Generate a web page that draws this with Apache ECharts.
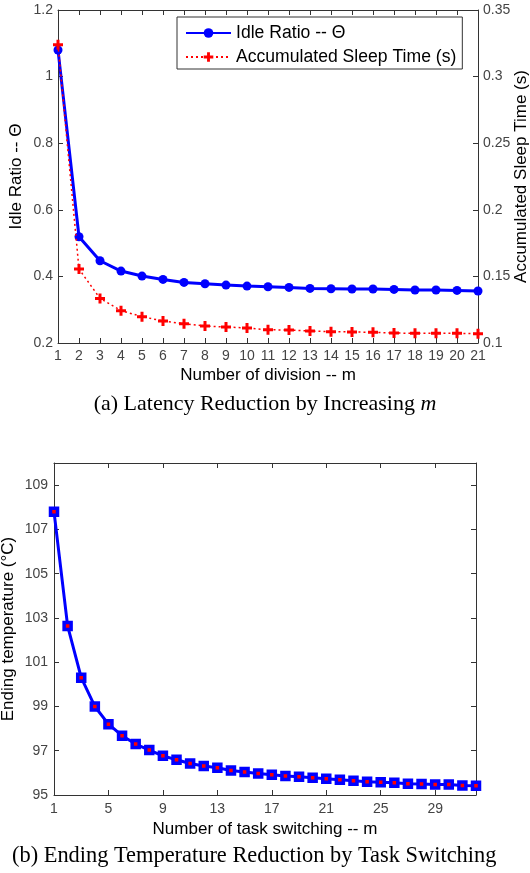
<!DOCTYPE html>
<html>
<head>
<meta charset="utf-8">
<script src="https://cdn.jsdelivr.net/npm/echarts@6/dist/echarts.min.js"></script>
<style>
html,body{margin:0;padding:0;background:#fff;}
#c{width:530px;height:873px;}
</style>
</head>
<body>
<div id="c"></div>
<script>
// ---- Data ----
const divisions = [1,2,3,4,5,6,7,8,9,10,11,12,13,14,15,16,17,18,19,20,21];
const idleRatio = [1.08,0.519,0.447,0.416,0.401,0.391,0.382,0.378,0.374,0.371,0.369,0.367,0.364,0.363,0.362,0.362,0.361,0.359,0.359,0.358,0.356];
const sleepTime = [0.324,0.1555,0.1335,0.1243,0.1198,0.1165,0.1145,0.1128,0.112,0.1113,0.1099,0.1098,0.109,0.1085,0.1083,0.108,0.1075,0.1073,0.1073,0.1073,0.107];
const switches = [1,2,3,4,5,6,7,8,9,10,11,12,13,14,15,16,17,18,19,20,21,22,23,24,25,26,27,28,29,30,31,32];
const endTemp = [107.8,102.64,100.3,99.0,98.2,97.68,97.3,97.03,96.77,96.59,96.42,96.31,96.23,96.11,96.04,95.97,95.91,95.86,95.82,95.78,95.73,95.69,95.64,95.6,95.58,95.55,95.51,95.5,95.48,95.47,95.43,95.42];
const idleTicks = [0.2,0.4,0.6,0.8,1,1.2];
const sleepTicks = [0.1,0.15,0.2,0.25,0.3,0.35];
const tempTicks = [95,97,99,101,103,105,107,109];
const switchTicks = [1,5,9,13,17,21,25,29];

const pair = (xs, ys) => xs.map((x, i) => [x, ys[i]]);

const FONT = 'Liberation Sans, Arial, sans-serif';
const axisLineStyle = {lineStyle:{color:'#333', width:1}};
const tickLabel = {color:'#444', fontSize:14, fontFamily:FONT};
const nameStyle = {color:'#000', fontSize:17, fontFamily:FONT};
const plusPath = 'path://M3.5,0H6.5V3.5H10V6.5H6.5V10H3.5V6.5H0V3.5H3.5Z';

const chart = echarts.init(document.getElementById('c'), null, {renderer:'canvas'});
chart.setOption({
  animation:false,
  backgroundColor:'#fff',
  grid:[
    {left:58, top:10, width:420, height:333, containLabel:false, outerBoundsMode:'none'},
    {left:54, top:463, width:422, height:332, containLabel:false, outerBoundsMode:'none'}
  ],
  legend:{
    left:177, top:17, orient:'vertical',
    backgroundColor:'#fff', borderColor:'#333', borderWidth:1,
    padding:[7,6,3,8], itemGap:6, itemWidth:45, itemHeight:12,
    textStyle:{color:'#000', fontSize:17.6, fontFamily:FONT},
    data:['Idle Ratio -- Θ','Accumulated Sleep Time (s)']
  },
  xAxis:[
    {gridIndex:0, type:'value', min:1, max:21, interval:1, position:'bottom',
     name:'Number of division -- m', nameLocation:'middle', nameGap:24, nameTextStyle:nameStyle,
     axisLine:axisLineStyle, axisTick:{inside:true, length:5, lineStyle:{color:'#333'}},
     axisLabel:Object.assign({margin:6}, tickLabel), splitLine:{show:false}},
    {gridIndex:0, type:'value', min:1, max:21, interval:1, position:'top',
     axisLine:axisLineStyle, axisTick:{inside:true, length:5, lineStyle:{color:'#333'}},
     axisLabel:{show:false}, splitLine:{show:false}},
    {gridIndex:1, type:'value', min:1, max:32, position:'bottom',
     name:'Number of task switching -- m', nameLocation:'middle', nameGap:26, nameTextStyle:nameStyle,
     axisLine:axisLineStyle,
     axisTick:{inside:true, length:5, lineStyle:{color:'#333'}, customValues:switchTicks},
     axisLabel:Object.assign({margin:7, customValues:switchTicks}, tickLabel), splitLine:{show:false}},
    {gridIndex:1, type:'value', min:1, max:32, position:'top',
     axisLine:axisLineStyle,
     axisTick:{inside:true, length:5, lineStyle:{color:'#333'}, customValues:switchTicks},
     axisLabel:{show:false}, splitLine:{show:false}}
  ],
  yAxis:[
    {gridIndex:0, type:'value', min:0.2, max:1.2, position:'left',
     name:'Idle Ratio -- Θ', nameLocation:'middle', nameGap:33, nameRotate:90, nameMoveOverlap:false, nameTextStyle:nameStyle,
     axisLine:axisLineStyle,
     axisTick:{inside:true, length:5, lineStyle:{color:'#333'}, customValues:idleTicks},
     axisLabel:Object.assign({margin:5, customValues:idleTicks, formatter:v=>String(+v.toFixed(2))}, tickLabel),
     splitLine:{show:false}},
    {gridIndex:0, type:'value', min:0.1, max:0.35, position:'right',
     name:'Accumulated Sleep Time (s)', nameLocation:'middle', nameGap:35, nameRotate:90, nameMoveOverlap:false, nameTextStyle:nameStyle,
     axisLine:axisLineStyle,
     axisTick:{inside:true, length:5, lineStyle:{color:'#333'}, customValues:sleepTicks},
     axisLabel:Object.assign({margin:5, customValues:sleepTicks, formatter:v=>String(+v.toFixed(2))}, tickLabel),
     splitLine:{show:false}},
    {gridIndex:1, type:'value', min:95, max:110, position:'left',
     name:'Ending temperature (°C)', nameLocation:'middle', nameGap:37, nameRotate:90, nameMoveOverlap:false, nameTextStyle:nameStyle,
     axisLine:axisLineStyle,
     axisTick:{inside:true, length:5, lineStyle:{color:'#333'}, customValues:tempTicks},
     axisLabel:Object.assign({margin:6, customValues:tempTicks}, tickLabel),
     splitLine:{show:false}},
    {gridIndex:1, type:'value', min:95, max:110, position:'right',
     axisLine:axisLineStyle,
     axisTick:{inside:true, length:5, lineStyle:{color:'#333'}, customValues:tempTicks},
     axisLabel:{show:false}, splitLine:{show:false}}
  ],
  series:[
    {name:'Idle Ratio -- Θ', type:'line', xAxisIndex:0, yAxisIndex:0, data:pair(divisions, idleRatio),
     symbol:'circle', symbolSize:9, showAllSymbol:true, clip:false,
     lineStyle:{color:'#0000ff', width:3}, itemStyle:{color:'#0000ff'}, z:3},
    {name:'Accumulated Sleep Time (s)', type:'line', xAxisIndex:0, yAxisIndex:1, data:pair(divisions, sleepTime),
     symbol:plusPath, symbolSize:10, showAllSymbol:true, clip:false,
     lineStyle:{color:'#ff0000', width:1.5, type:[2,3]}, itemStyle:{color:'#ff0000'}, z:4},
    {name:'Ending temperature', type:'line', xAxisIndex:2, yAxisIndex:2, data:pair(switches, endTemp),
     symbol:'rect', symbolSize:7, showAllSymbol:true, clip:false,
     lineStyle:{color:'#0000ff', width:3}, itemStyle:{color:'#ff0000', borderColor:'#0000ff', borderWidth:3.5}, z:3}
  ],
  graphic:[
    {type:'text', left:'center', top:393,
     style:{text:'(a) Latency Reduction by Increasing {i|m}', font:'22px "Liberation Serif", "Times New Roman", serif', fill:'#000',
       rich:{i:{fontStyle:'italic', fontSize:22, fontFamily:'Liberation Serif'}}}},
    {type:'text', left:12, top:845,
     style:{text:'(b) Ending Temperature Reduction by Task Switching', font:'22.4px "Liberation Serif", "Times New Roman", serif', fill:'#000'}}
  ]
});
</script>
</body>
</html>
